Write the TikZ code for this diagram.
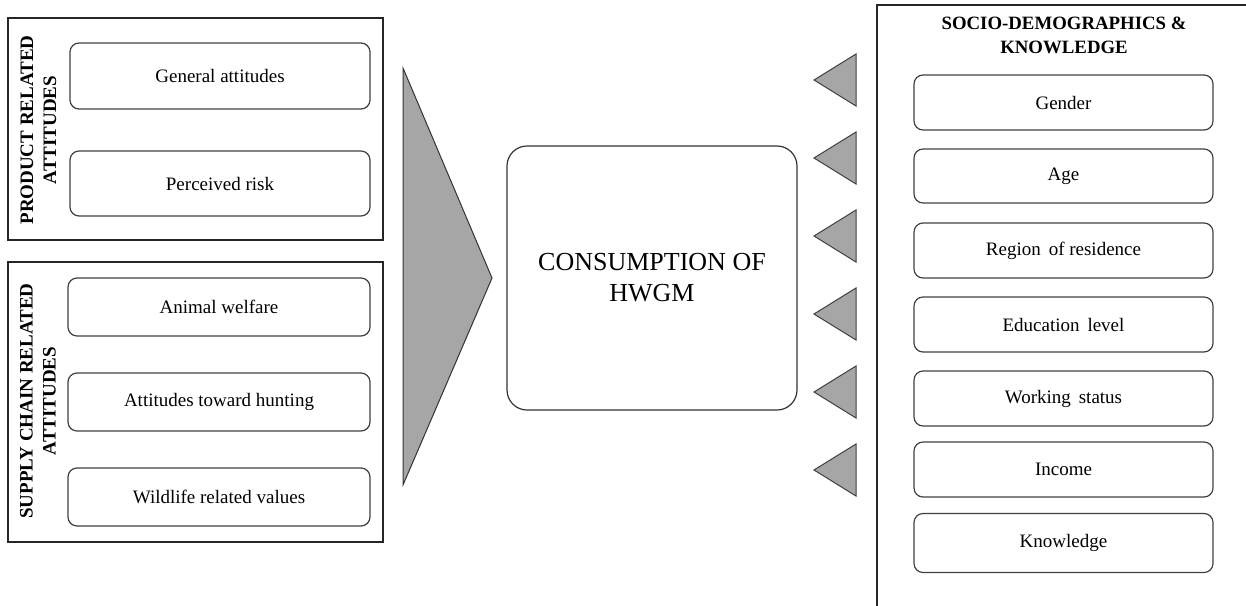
\documentclass[tikz,border=0pt]{standalone}
\usepackage{fontspec}
\setmainfont{Liberation Serif}
\begin{document}
\begin{tikzpicture}[x=1pt,y=-1pt,
  panel/.style={draw=black!85, line width=1.2pt},
  item/.style={draw=black!75, line width=1.2pt, rounded corners=9pt, minimum width=300pt, align=center, inner sep=0pt, font=\fontsize{19}{22}\selectfont},
  vlabel/.style={rotate=90, align=center, font=\bfseries\fontsize{19}{23}\selectfont, inner sep=0pt},
  bigarrow/.style={fill=black!35, draw=black!80, line width=1pt, line join=miter},
  smallarrow/.style={fill=black!35, draw=black!75, line width=1pt, line join=miter},
  core/.style={draw=black!80, line width=1.2pt, rounded corners=20pt, minimum width=290pt, minimum height=264pt, align=center, inner sep=0pt, font=\fontsize{26}{31}\selectfont}
]
\useasboundingbox (0,0) rectangle (1246,605);
\clip (0,0) rectangle (1246,605);

% left panels
\node[panel, minimum width=375pt, minimum height=222pt, inner sep=0pt] (prod) at (195.5,129) {};
\node[panel, minimum width=375pt, minimum height=280pt, inner sep=0pt] (supp) at (195.5,402) {};
\node[vlabel] (prodlbl) at (38.5,130) {PRODUCT RELATED\\ATTITUDES};
\node[vlabel] (supplbl) at (38,401) {SUPPLY CHAIN RELATED\\ATTITUDES};

\node[item, minimum height=66pt] (ga) at (220,76) {General attitudes};
\node[item, minimum height=65pt] (pr) at (220,183.5) {Perceived risk};
\node[item, minimum height=58pt, minimum width=302pt] (aw) at (219,307) {Animal welfare};
\node[item, minimum height=58pt, minimum width=302pt] (ah) at (219,402) {Attitudes toward hunting};
\node[item, minimum height=58pt, minimum width=302pt] (wv) at (219,497) {Wildlife related values};

% big arrow
\coordinate (bt) at (403,68);
\coordinate (bb) at (403,485);
\coordinate (bp) at (492,278);
\draw[bigarrow] (bt) -- (bp) -- (bb) -- cycle;

% center
\node[core] (hwgm) at (652,278) {CONSUMPTION OF\\HWGM};

% right panel (open to the right and bottom)
\coordinate (rpb) at (877,615);
\coordinate (rpt) at (877,5);
\coordinate (rpr) at (1260,5);
\draw[panel] (rpb) -- (rpt) -- (rpr);
\node[align=center, font=\bfseries\fontsize{18.8}{24}\selectfont, inner sep=0pt] (head) at (1064,35.5) {SOCIO-DEMOGRAPHICS \&\\KNOWLEDGE};

\node[item, minimum height=55pt, minimum width=299pt] (gender) at (1063.5,102.5) {Gender};
\node[item, minimum height=54pt, minimum width=299pt] (age) at (1063.5,176) {Age};
\node[item, minimum height=55pt, minimum width=299pt] (region) at (1063.5,250.5) {Region\, of residence};
\node[item, minimum height=55pt, minimum width=299pt] (edu) at (1063.5,324.5) {Education\, level};
\node[item, minimum height=55pt, minimum width=299pt] (work) at (1063.5,398.5) {Working\, status};
\node[item, minimum height=55pt, minimum width=299pt] (inc) at (1063.5,469.5) {Income};
\node[item, minimum height=59pt, minimum width=299pt] (know) at (1063.5,543) {Knowledge};

% small arrows
\foreach \c in {80,158,236,314,392,470}{
  \draw[smallarrow] (814,\c) -- (856,\c-26) -- (856,\c+26) -- cycle;
}
\end{tikzpicture}
\end{document}
